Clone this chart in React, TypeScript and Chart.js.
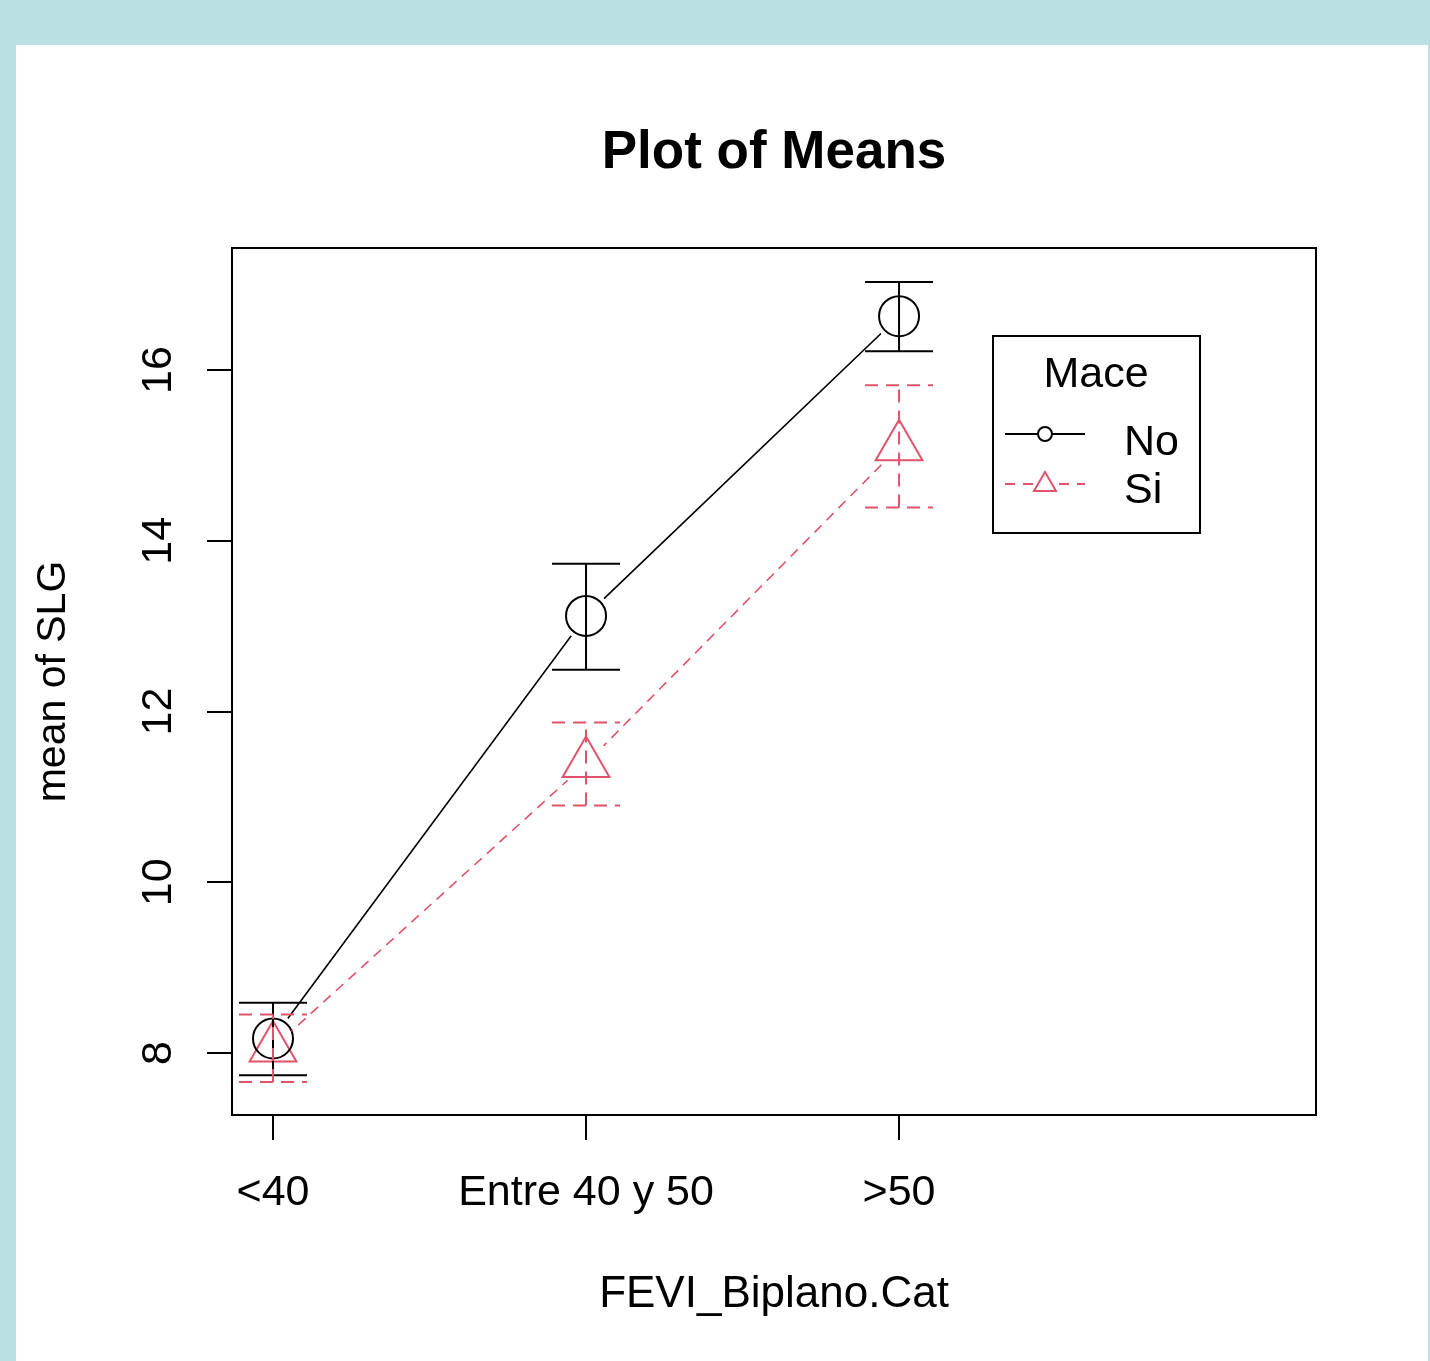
import React, { useEffect, useRef } from "react";
import { Chart, registerables } from "chart.js";

Chart.register(...registerables);

const categories = ["<40", "Entre 40 y 50", ">50"];
const yTicks = [8, 10, 12, 14, 16];

const noMeans = [8.17, 13.12, 16.63];
const noUpper = [8.59, 13.73, 17.03];
const noLower = [7.74, 12.49, 16.22];

const siMeans = [8.06, 11.39, 15.1];
const siUpper = [8.45, 11.87, 15.82];
const siLower = [7.66, 10.9, 14.39];

const RED = "#DF536B";
const FONT = '"Liberation Sans", Arial, sans-serif';

export default function App() {
  const ref = useRef<HTMLCanvasElement | null>(null);

  useEffect(() => {
    const canvas = ref.current;
    if (!canvas) return;

    const GAP = 25;

    const decor = {
      id: "decor",
      beforeDraw(chart: any) {
        const ctx = chart.ctx;
        ctx.save();
        ctx.fillStyle = "#BBE0E3";
        ctx.fillRect(0, 0, chart.width, chart.height);
        ctx.fillStyle = "#FFFFFF";
        ctx.fillRect(16, 45, 1412, chart.height - 45);
        ctx.restore();
      },
      beforeDatasetDraw(chart: any, args: any) {
        const ds = chart.data.datasets[args.index];
        if (!ds.isLine) return;
        const ctx = chart.ctx;
        const meta = chart.getDatasetMeta(args.index);
        ctx.save();
        ctx.beginPath();
        ctx.rect(0, 0, chart.width, chart.height);
        meta.data.forEach((p: any) => {
          ctx.moveTo(p.x + GAP, p.y);
          ctx.arc(p.x, p.y, GAP, 0, Math.PI * 2);
        });
        ctx.clip("evenodd");
      },
      afterDatasetDraw(chart: any, args: any) {
        const ds = chart.data.datasets[args.index];
        if (!ds.isLine) return;
        chart.ctx.restore();
      },
      afterDatasetsDraw(chart: any) {
        const ctx = chart.ctx;
        const xs = chart.scales.x;
        const ys = chart.scales.y;
        const half = 34;
        const drawBars = (lo: number[], hi: number[], color: string, dash: number[]) => {
          ctx.save();
          ctx.strokeStyle = color;
          ctx.lineWidth = 2;
          ctx.setLineDash(dash);
          lo.forEach((l, i) => {
            const x = xs.getPixelForValue(i);
            const yl = ys.getPixelForValue(l);
            const yh = ys.getPixelForValue(hi[i]);
            ctx.beginPath();
            ctx.moveTo(x, yl);
            ctx.lineTo(x, yh);
            ctx.moveTo(x - half, yh);
            ctx.lineTo(x + half, yh);
            ctx.moveTo(x - half, yl);
            ctx.lineTo(x + half, yl);
            ctx.stroke();
          });
          ctx.restore();
        };
        drawBars(noLower, noUpper, "#000000", []);
        drawBars(siLower, siUpper, RED, [13, 8]);
      },
      afterDraw(chart: any) {
        const ctx = chart.ctx;
        const a = chart.chartArea;
        const xs = chart.scales.x;
        const ys = chart.scales.y;
        ctx.save();
        ctx.strokeStyle = "#000";
        ctx.lineWidth = 2;
        ctx.setLineDash([]);
        ctx.strokeRect(a.left, a.top, a.right - a.left, a.bottom - a.top);

        const cx = (a.left + a.right) / 2;
        ctx.fillStyle = "#000";
        ctx.textAlign = "center";
        ctx.textBaseline = "alphabetic";
        ctx.font = `bold 53px ${FONT}`;
        ctx.fillText("Plot of Means", cx, 168);

        ctx.font = `43px ${FONT}`;
        categories.forEach((c, i) => {
          ctx.fillText(c, xs.getPixelForValue(i), 1205);
        });
        ctx.font = `44px ${FONT}`;
        ctx.fillText("FEVI_Biplano.Cat", cx, 1307);

        ctx.font = `43px ${FONT}`;
        yTicks.forEach((v) => {
          const y = ys.getPixelForValue(v);
          ctx.save();
          ctx.translate(171, y);
          ctx.rotate(-Math.PI / 2);
          ctx.fillText(String(v), 0, 0);
          ctx.restore();
        });
        ctx.save();
        ctx.font = `41px ${FONT}`;
        ctx.translate(65, (a.top + a.bottom) / 2);
        ctx.rotate(-Math.PI / 2);
        ctx.fillText("mean of SLG", 0, 0);
        ctx.restore();

        // legend
        ctx.font = `43px ${FONT}`;
        ctx.lineWidth = 2;
        ctx.strokeRect(993, 336, 207, 197);
        ctx.fillText("Mace", 1096, 387);
        ctx.textAlign = "left";
        ctx.fillText("No", 1124, 455);
        ctx.fillText("Si", 1124, 503);
        ctx.beginPath();
        ctx.moveTo(1005, 434);
        ctx.lineTo(1085, 434);
        ctx.stroke();
        ctx.fillStyle = "#fff";
        ctx.beginPath();
        ctx.arc(1045, 434, 7, 0, Math.PI * 2);
        ctx.fill();
        ctx.stroke();
        ctx.strokeStyle = RED;
        ctx.setLineDash([10, 8]);
        ctx.beginPath();
        ctx.moveTo(1005, 484);
        ctx.lineTo(1085, 484);
        ctx.stroke();
        ctx.setLineDash([]);
        ctx.beginPath();
        ctx.moveTo(1045, 472);
        ctx.lineTo(1056, 491);
        ctx.lineTo(1034, 491);
        ctx.closePath();
        ctx.fillStyle = "#fff";
        ctx.fill();
        ctx.stroke();
        ctx.restore();
      },
    };

    const pts = (arr: number[]) => arr.map((v, i) => ({ x: i, y: v }));

    const chart = new Chart(canvas, {
      type: "scatter",
      data: {
        datasets: [
          {
            label: "No line",
            isLine: true,
            data: pts(noMeans),
            showLine: true,
            borderColor: "#000000",
            borderWidth: 1.6,
            pointRadius: 0,
          },
          {
            label: "Si line",
            isLine: true,
            data: pts(siMeans),
            showLine: true,
            borderColor: RED,
            borderWidth: 1.6,
            borderDash: [10, 7],
            pointRadius: 0,
          },
          {
            label: "No",
            data: pts(noMeans),
            showLine: false,
            pointStyle: "circle",
            pointRadius: 20,
            pointBorderWidth: 2,
            pointBorderColor: "#000000",
            pointBackgroundColor: "rgba(0,0,0,0)",
          },
          {
            label: "Si",
            data: pts(siMeans),
            showLine: false,
            pointStyle: "triangle",
            pointRadius: 27,
            pointBorderWidth: 2,
            pointBorderColor: RED,
            pointBackgroundColor: "rgba(0,0,0,0)",
          },
        ],
      } as any,
      plugins: [decor],
      options: {
        responsive: false,
        animation: false,
        devicePixelRatio: 1,
        events: [],
        layout: { padding: { left: 0, top: 248, right: 114, bottom: 0 } },
        plugins: { legend: { display: false }, tooltip: { enabled: false }, title: { display: false } },
        scales: {
          x: {
            type: "linear",
            min: -0.131,
            max: 3.332,
            afterBuildTicks: (s: any) => {
              s.ticks = categories.map((_, i) => ({ value: i }));
            },
            afterFit: (s: any) => {
              s.height = 246;
            },
            ticks: { display: false },
            border: { display: false },
            grid: { drawOnChartArea: false, drawTicks: true, tickLength: 25, color: "#000", lineWidth: 2 },
          },
          y: {
            type: "linear",
            min: 7.274,
            max: 17.429,
            afterBuildTicks: (s: any) => {
              s.ticks = yTicks.map((v) => ({ value: v }));
            },
            afterFit: (s: any) => {
              s.width = 232;
            },
            ticks: { display: false },
            border: { display: false },
            grid: { drawOnChartArea: false, drawTicks: true, tickLength: 25, color: "#000", lineWidth: 2 },
          },
        },
      } as any,
    });
    return () => chart.destroy();
  }, []);

  return (
    <div style={{ position: "absolute", left: 0, top: 0, width: 1430, height: 1361, overflow: "hidden" }}>
      <canvas ref={ref} width={1430} height={1361} style={{ display: "block", width: 1430, height: 1361 }} />
    </div>
  );
}
